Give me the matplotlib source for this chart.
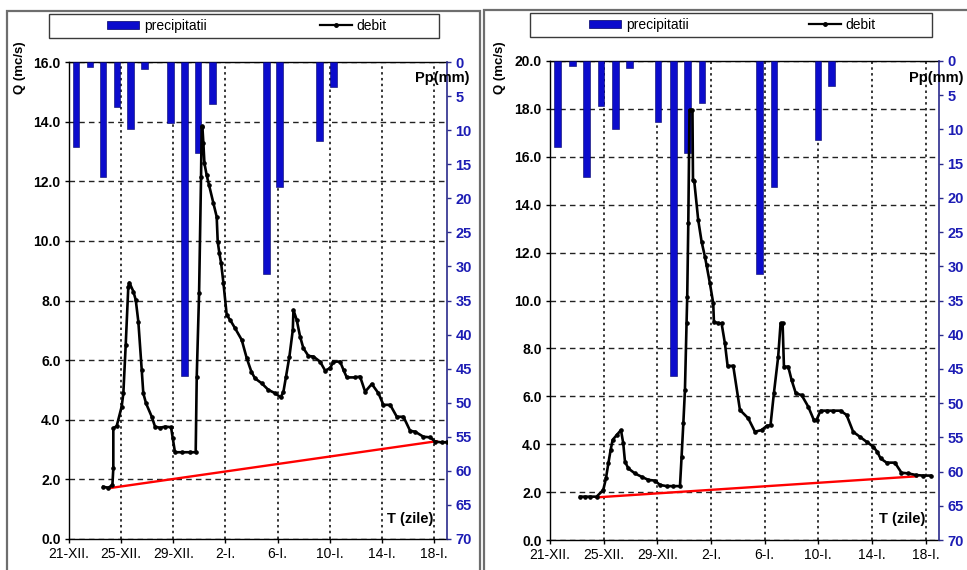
import matplotlib
matplotlib.use('Agg')
import matplotlib.pyplot as plt
from matplotlib.patches import Rectangle, Patch
from matplotlib.lines import Line2D

plt.rcParams['font.family'] = ['Liberation Sans', 'DejaVu Sans']

# ---------------- data ----------------
tick_days = [0, 4, 8, 12, 16, 20, 24, 28]
tick_labels = ['21-XII.', '25-XII.', '29-XII.', '2-I.', '6-I.', '10-I.', '14-I.', '18-I.']

precip_mm = [12.5, 0.7, 16.9, 6.6, 9.9, 1.0, 8.9, 46.1, 13.4, 6.1, 31.1, 18.4, 11.6, 3.6]
bar_day_left = [0.54, 1.6, 2.6, 3.7, 4.7, 5.8, 7.8, 8.85, 9.9, 11.0, 15.15, 16.15, 19.2, 20.3]
bar_day_right = [0.54, 1.68, 2.72, 3.8, 4.88, 5.92, 8.05, 9.2, 10.25, 11.33, 15.6, 16.7, 19.97, 20.98]

day_left = [2.63, 3.02, 3.33, 3.40, 3.40, 3.66, 4.04, 4.17, 4.35, 4.55, 4.63, 4.94, 5.12, 5.32,
            5.58, 5.70, 5.91, 6.35, 6.60, 6.98, 7.37, 7.83, 7.96, 8.13, 8.65, 9.29, 9.72, 9.80,
            9.98, 10.13, 10.18, 10.23, 10.31, 10.39, 10.56, 10.74, 11.08, 11.33, 11.41, 11.54,
            11.67, 11.85, 12.10, 12.36, 12.74, 13.25, 13.64, 14.00, 14.27, 14.79, 15.30, 15.81,
            16.24, 16.45, 16.65, 16.91, 17.17, 17.22, 17.47, 17.73, 17.98, 18.37, 18.75, 19.26,
            19.65, 20.03, 20.29, 20.80, 21.06, 21.31, 21.95, 22.33, 22.72, 23.23, 23.74, 24.12,
            24.64, 25.15, 25.66, 26.17, 26.55, 27.19, 27.71, 28.09, 28.60, 29.00]
q_left = [1.75, 1.72, 1.81, 2.37, 3.71, 3.79, 4.44, 4.89, 6.51, 8.46, 8.60, 8.30, 8.02, 7.29,
          5.67, 4.89, 4.55, 4.10, 3.77, 3.73, 3.77, 3.75, 3.38, 2.91, 2.91, 2.91, 2.91, 5.45,
          8.25, 12.15, 13.83, 13.85, 13.27, 12.60, 12.21, 11.88, 11.26, 10.81, 9.97, 9.58,
          9.25, 8.58, 7.51, 7.35, 7.07, 6.68, 6.06, 5.60, 5.39, 5.22, 5.00, 4.89,
          4.75, 4.94, 5.45, 6.12, 7.01, 7.68, 7.35, 6.79, 6.40, 6.14, 6.12, 5.95,
          5.65, 5.73, 5.95, 5.95, 5.67, 5.42, 5.42, 5.45, 4.94, 5.20, 4.89, 4.50,
          4.50, 4.10, 4.10, 3.63, 3.60, 3.43, 3.41, 3.27, 3.24, 3.25]

day_right = [2.24, 2.61, 2.98, 3.48, 3.97, 4.17, 4.35, 4.52, 4.67, 4.97, 5.29, 5.46, 5.59, 5.84,
             6.33, 6.83, 7.33, 7.82, 8.20, 8.69, 9.19, 9.69, 9.81, 9.94, 10.06, 10.18, 10.23,
             10.31, 10.40, 10.62, 10.66, 10.75, 11.05, 11.30, 11.55, 11.67, 11.92, 12.17, 12.22,
             12.54, 12.79, 13.04, 13.24, 13.66, 14.16, 14.78, 15.28, 15.77, 16.15, 16.44, 16.69,
             17.01, 17.19, 17.34, 17.44, 17.76, 18.01, 18.33, 18.76, 19.25, 19.67, 19.87, 20.17,
             20.62, 21.11, 21.66, 22.11, 22.60, 23.10, 23.60, 24.09, 24.39, 24.64, 25.09, 25.71,
             26.20, 26.70, 27.32, 27.82, 28.37]
q_right = [1.81, 1.81, 1.81, 1.81, 2.09, 2.57, 3.20, 3.76, 4.18, 4.38, 4.59, 4.04, 3.27, 2.99,
           2.78, 2.64, 2.51, 2.48, 2.30, 2.25, 2.25, 2.25, 3.48, 4.87, 6.26, 9.05, 10.16,
           13.22, 17.95, 17.95, 15.03, 15.00, 13.36, 12.46, 11.83, 11.48, 10.72, 9.88, 9.11,
           9.05, 9.05, 8.21, 7.27, 7.27, 5.43, 5.08, 4.52, 4.59, 4.76, 4.80, 6.12,
           7.65, 9.05, 9.05, 7.24, 7.24, 6.68, 6.12, 6.05, 5.57, 5.01, 5.01, 5.40,
           5.40, 5.40, 5.40, 5.22, 4.52, 4.31, 4.10, 3.90, 3.69, 3.41, 3.23, 3.23,
           2.81, 2.78, 2.71, 2.69, 2.69]

base_day_left = [3.0, 28.2]
base_q_left = [1.70, 3.28]
base_day_right = [3.48, 27.35]
base_q_right = [1.78, 2.66]

pp_ticks = list(range(0, 75, 5))

# ---------------- styling ----------------
W, H = 967, 570
BLUE = '#0c0ccc'
NAVY = '#2a2a8c'
TICKBLUE = '#1c1cb4'

fig = plt.figure(figsize=(W / 100, H / 100), dpi=100)


def fx(px):
    return px / W


def fy(py):
    return 1 - py / H


def panel(ax_px, frame_px, leg_px, leg_bar_x, leg_line_x, qmax, days, q, bar_days,
          bdays, bq, qlabel_x, pp_right_x, tz_right_x):
    # outer panel frame
    x0, y0, x1, y1 = frame_px
    fig.patches.append(Rectangle((fx(x0), fy(y1)), fx(x1 - x0), (y1 - y0) / H,
                                 transform=fig.transFigure, fill=False,
                                 edgecolor='#6e6e6e', lw=1.6, zorder=0))
    # legend frame
    lx0, ly0, lx1, ly1 = leg_px
    fig.patches.append(Rectangle((fx(lx0), fy(ly1)), fx(lx1 - lx0), (ly1 - ly0) / H,
                                 transform=fig.transFigure, fill=False,
                                 edgecolor='#3a3a3a', lw=1.0, zorder=1))
    ymid = fy((ly0 + ly1) / 2)
    h1 = [Patch(facecolor=BLUE, edgecolor='#000066', lw=0.5)]
    fig.legend(h1, ['precipitatii'], loc='center left', bbox_to_anchor=(fx(leg_bar_x), ymid),
               frameon=False, borderpad=0, borderaxespad=0, handlelength=2.3,
               handleheight=0.55, handletextpad=0.35, fontsize=10)
    h2 = [Line2D([], [], color='black', lw=1.6, marker='o', markersize=2.5)]
    fig.legend(h2, ['debit'], loc='center left', bbox_to_anchor=(fx(leg_line_x), ymid),
               frameon=False, borderpad=0, borderaxespad=0, handlelength=2.3,
               handletextpad=0.35, numpoints=1, fontsize=10)

    ax0, ay0, ax1, ay1 = ax_px
    ax = fig.add_axes([fx(ax0), fy(ay1), fx(ax1 - ax0), (ay1 - ay0) / H])
    ax.set_xlim(0, 29)
    ax.set_ylim(0, qmax)
    ax.set_xticks(tick_days)
    ax.set_xticklabels(tick_labels, fontsize=10)
    qt = [v for v in range(0, qmax + 1, 2)]
    ax.set_yticks(qt)
    ax.set_yticklabels(['%.1f' % v for v in qt], fontsize=10, fontweight='bold')
    ax.tick_params(axis='both', direction='out', length=3, width=1, pad=3)
    ax.tick_params(axis='x', pad=2.5)
    ax.xaxis.grid(True, linestyle=(0, (1.6, 2.2)), color='black', lw=1.1)
    ax.yaxis.grid(True, linestyle=(0, (4, 3)), color='#222222', lw=1.0)
    ax.set_axisbelow(True)
    ax.spines['right'].set_visible(False)
    for s in ('left', 'bottom', 'top'):
        ax.spines[s].set_linewidth(1.0)

    axp = ax.twinx()
    axp.bar(bar_days, precip_mm, width=0.5, color=BLUE, edgecolor='#000066', lw=0.4, zorder=2)
    axp.plot(bdays, bq, color='#ff0000', lw=1.7, transform=ax.transData, zorder=3)
    axp.plot(days, q, color='black', lw=1.9, marker='o', markersize=2.3,
             transform=ax.transData, zorder=4)
    axp.set_xlim(0, 29)
    axp.set_ylim(70, 0)
    axp.set_yticks(pp_ticks)
    axp.set_yticklabels([str(v) for v in pp_ticks], fontsize=10.5, fontweight='bold',
                        color=TICKBLUE)
    axp.tick_params(axis='y', direction='out', length=3, width=1, color=NAVY, pad=3)
    for s in ('left', 'top', 'bottom'):
        axp.spines[s].set_visible(False)
    axp.spines['right'].set_color(NAVY)
    axp.spines['right'].set_linewidth(1.2)

    fig.text(fx(qlabel_x), fy(68), 'Q (mc/s)', rotation=90, ha='center', va='center',
             fontsize=9.5, fontweight='bold')
    fig.text(fx(pp_right_x), fy(78), 'Pp(mm)', ha='right', va='center',
             fontsize=10.5, fontweight='bold')
    fig.text(fx(tz_right_x), fy(519), 'T (zile)', ha='right', va='center',
             fontsize=10.5, fontweight='bold')


panel((69, 62, 447, 539), (7, 11, 480, 580), (49, 14, 439, 38), 107, 320, 16,
      day_left, q_left, bar_day_left, base_day_left, base_q_left, 20, 470, 433)
panel((550, 61, 939, 540), (484, 10, 980, 580), (530, 13, 932, 37), 589, 809, 20,
      day_right, q_right, bar_day_right, base_day_right, base_q_right, 500, 964, 925)

fig.savefig('out.png', dpi=100)
